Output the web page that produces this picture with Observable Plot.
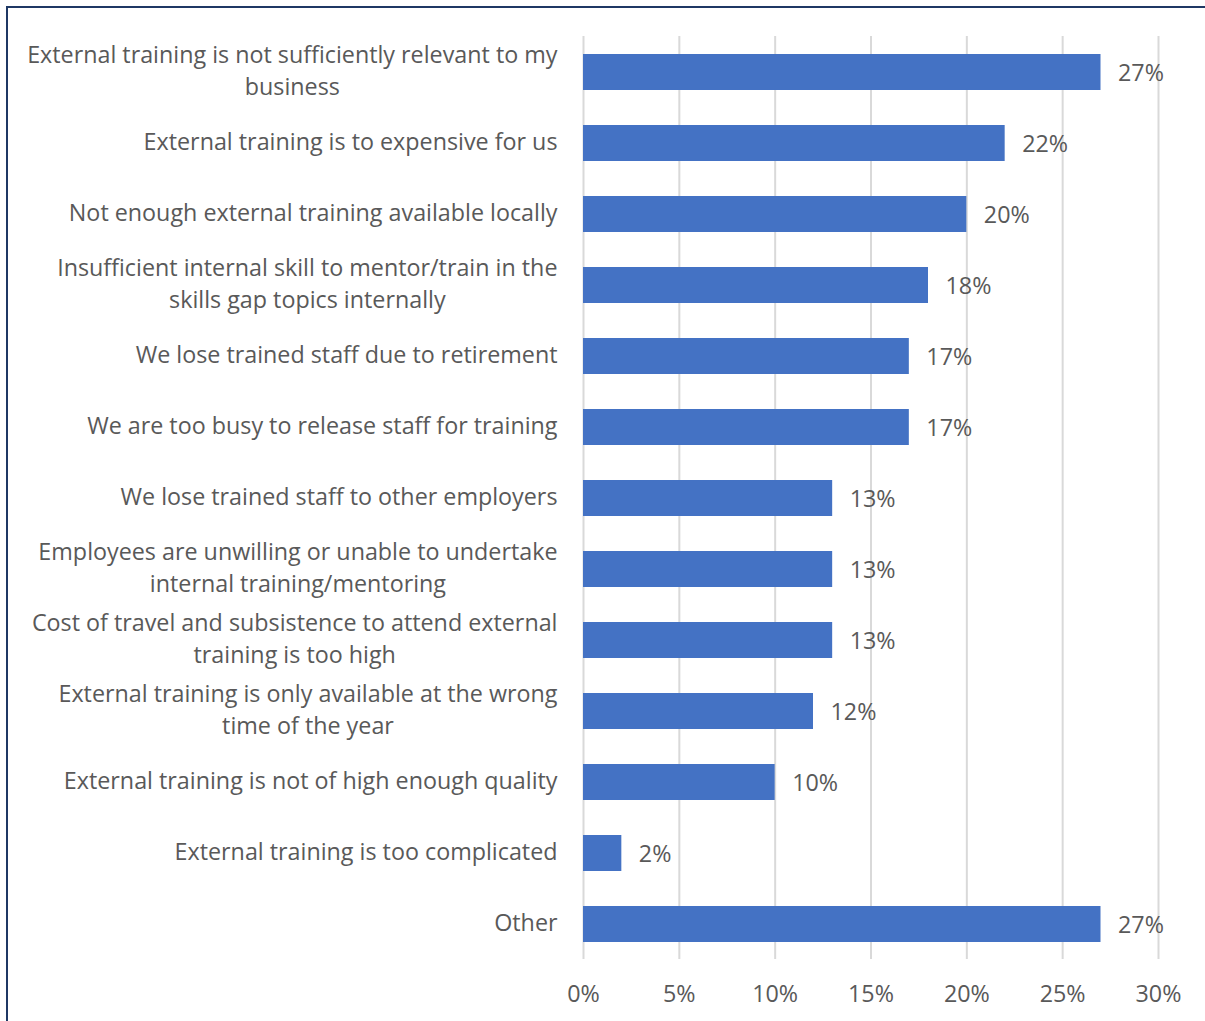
<!DOCTYPE html>
<html>
<head>
<meta charset="utf-8">
<script src="https://cdn.jsdelivr.net/npm/d3@7"></script>
<script src="https://cdn.jsdelivr.net/npm/@observablehq/plot@0.6"></script>
<style>
  html, body { margin: 0; padding: 0; background: #fff; overflow: hidden; }
  #frame { position: absolute; left: 6px; top: 6px; width: 1260px; height: 1100px; border: 2px solid #1f3864; box-sizing: border-box; }
  #chart { position: absolute; left: 0; top: 0; }
</style>
</head>
<body>
<div id="frame"></div>
<div id="chart"></div>
<script>
const categories = [
  "External training is not sufficiently relevant to my\nbusiness",
  "External training is to expensive for us",
  "Not enough external training available locally",
  "Insufficient internal skill to mentor/train in the\nskills gap topics internally",
  "We lose trained staff due to retirement",
  "We are too busy to release staff for training",
  "We lose trained staff to other employers",
  "Employees are unwilling or unable to undertake\ninternal training/mentoring",
  "Cost of travel and subsistence to attend external\ntraining is too high",
  "External training is only available at the wrong\ntime of the year",
  "External training is not of high enough quality",
  "External training is too complicated",
  "Other"
];
const values = [27, 22, 20, 18, 17, 17, 13, 13, 13, 12, 10, 2, 27];
const xTicks = [0, 5, 10, 15, 20, 25, 30];

const data = categories.map((c, i) => ({category: c, value: values[i] / 100}));

const font = "'Open Sans', Lato, sans-serif";
const chart = Plot.plot({
  width: 1205,
  height: 1021,
  marginLeft: 583,
  marginRight: 47,
  marginTop: 36,
  marginBottom: 62,
  style: {fontFamily: font, fontSize: "23.3px", color: "#595959", background: "transparent"},
  x: {domain: [0, 0.30], ticks: xTicks.map(t => t / 100), tickFormat: d3.format(".0%"), label: null, tickSize: 0, tickPadding: 26},
  y: {domain: categories, paddingInner: 0.5, paddingOuter: 0.25, axis: null},
  marks: [
    Plot.ruleX(xTicks.map(t => t / 100), {stroke: "#d9d9d9", strokeWidth: 2, strokeOpacity: 1}),
    Plot.barX(data, {x: "value", y: "category", fill: "#4472c4"}),
    Plot.text(data, {x: "value", y: "category", text: d => d3.format(".0%")(d.value), textAnchor: "start", dx: 17, dy: 1, fill: "#595959", fontSize: 23.3}),
    Plot.text(data, {x: 0, y: "category", text: "category", textAnchor: "end", dx: -26, dy: -4, fill: "#595959", fontSize: 23.3, lineHeight: 1.37})
  ]
});
document.getElementById("chart").appendChild(chart);

// Excel-style wrapped labels: block right-aligned, lines centred within the block
d3.select(chart).selectAll("text").each(function() {
  const tspans = d3.select(this).selectAll("tspan");
  if (tspans.size() < 2) return;
  let w = 0;
  tspans.each(function() { w = Math.max(w, this.getComputedTextLength()); });
  this.setAttribute("text-anchor", "middle");
  this.style.textAnchor = "middle";
  tspans.attr("x", -w / 2);
});
</script>
</body>
</html>
